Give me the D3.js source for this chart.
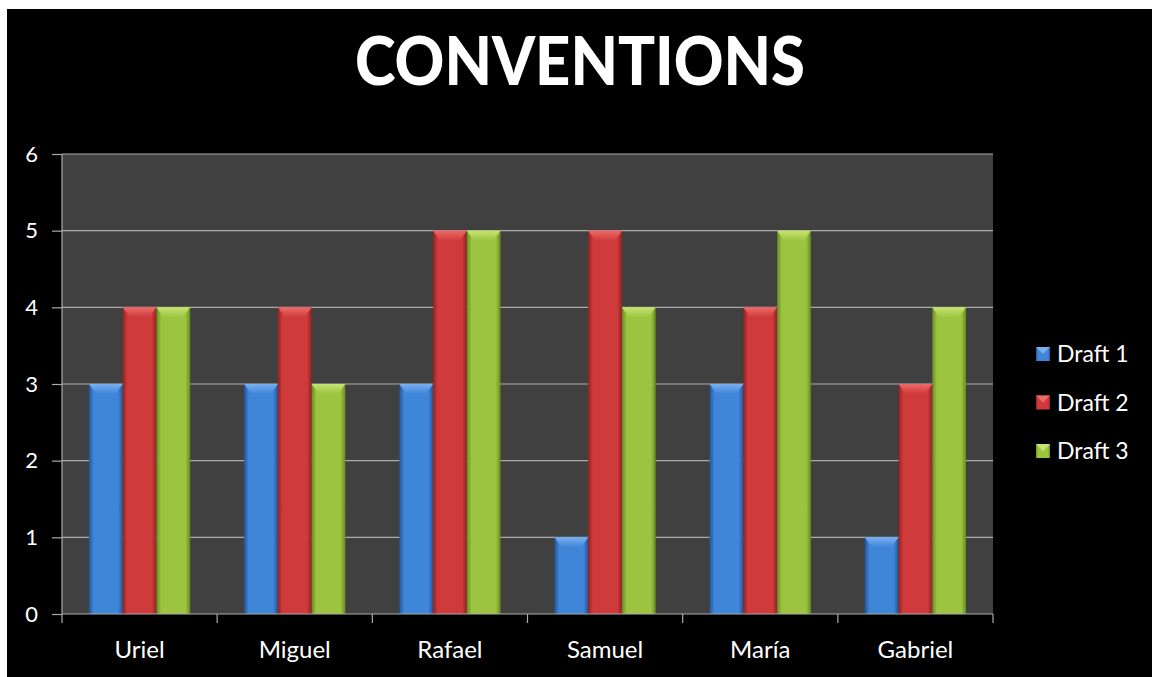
<!DOCTYPE html>
<html>
<head>
<meta charset="utf-8">
<script src="https://cdn.jsdelivr.net/npm/d3@7"></script>
<style>
html,body{margin:0;padding:0;background:#fff;}
svg{display:block;}
</style>
</head>
<body>
<svg id="chart" width="1152" height="677"></svg>
<script>
const categories = ["Uriel","Miguel","Rafael","Samuel","María","Gabriel"];
const seriesNames = ["Draft 1","Draft 2","Draft 3"];
const draft1 = [3,3,3,1,3,1];
const draft2 = [4,4,5,5,4,3];
const draft3 = [4,3,5,4,5,4];
const seriesValues = [draft1, draft2, draft3];
const yTicks = [0,1,2,3,4,5,6];
const title = "CONVENTIONS";

const palette = [
  {edge:"#24559a", mid:"#3f85d8", top:"#78b0f0"},
  {edge:"#922222", mid:"#cf3b3b", top:"#ee6a6a"},
  {edge:"#688a22", mid:"#9cc440", top:"#c6e472"}
];

const FONT = "Lato, 'Open Sans', sans-serif";
const svg = d3.select("#chart");
const W = 1152, H = 677;
svg.append("rect").attr("x",0).attr("y",0).attr("width",W).attr("height",H).attr("fill","#fff");
svg.append("rect").attr("x",7).attr("y",9).attr("width",W-7).attr("height",H-9).attr("fill","#000");

const plot = {left:62, top:154, right:993, bottom:614};

const defs = svg.append("defs");
palette.forEach((p,i)=>{
  const g = defs.append("linearGradient").attr("id","grad"+i).attr("x1","0").attr("x2","1").attr("y1","0").attr("y2","0");
  g.append("stop").attr("offset","0%").attr("stop-color",p.edge);
  g.append("stop").attr("offset","14%").attr("stop-color",p.mid);
  g.append("stop").attr("offset","86%").attr("stop-color",p.mid);
  g.append("stop").attr("offset","100%").attr("stop-color",p.edge);
  const gt = defs.append("linearGradient").attr("id","top"+i).attr("x1","0").attr("x2","0").attr("y1","0").attr("y2","1");
  gt.append("stop").attr("offset","0%").attr("stop-color",p.top);
  gt.append("stop").attr("offset","100%").attr("stop-color",p.mid);
});

svg.append("text").attr("x",580).attr("y",85).attr("text-anchor","middle")
  .attr("font-family",FONT).attr("font-weight","900")
  .attr("font-size",66).attr("fill","#fff")
  .attr("textLength",450).attr("lengthAdjust","spacingAndGlyphs")
  .text(title);

svg.append("rect").attr("x",plot.left).attr("y",plot.top)
  .attr("width",plot.right-plot.left).attr("height",plot.bottom-plot.top).attr("fill","#404040");

const x0 = d3.scaleBand().domain(categories).range([plot.left, plot.right]).paddingInner(0).paddingOuter(0);
const x1 = d3.scaleBand().domain(seriesNames).range([0, x0.bandwidth()]).paddingInner(0).paddingOuter(0.8);
const y = d3.scaleLinear().domain([0,6]).range([plot.bottom, plot.top]);

svg.append("g").selectAll("line").data(yTicks.filter(d=>d>0)).join("line")
  .attr("x1",plot.left).attr("x2",plot.right)
  .attr("y1",d=>y(d)).attr("y2",d=>y(d))
  .attr("stroke","#ababab").attr("stroke-width",1.2);

const bw = x1.bandwidth();
categories.forEach((c,ci)=>{
  seriesNames.forEach((s,si)=>{
    const v = seriesValues[si][ci];
    const bx = x0(c) + x1(s);
    const by = y(v);
    const bh = y(0) - by;
    const g = svg.append("g");
    g.append("rect").attr("x",bx).attr("y",by).attr("width",bw).attr("height",bh)
      .attr("fill","url(#grad"+si+")");
    const bev = 10, ins = 7;
    g.append("path")
      .attr("d",`M${bx},${by}L${bx+bw},${by}L${bx+bw-ins},${by+bev}L${bx+ins},${by+bev}Z`)
      .attr("fill","url(#top"+si+")");
  });
});

svg.append("line").attr("x1",plot.left).attr("x2",plot.left).attr("y1",plot.top).attr("y2",plot.bottom)
  .attr("stroke","#ababab").attr("stroke-width",1.2);
svg.append("line").attr("x1",plot.left).attr("x2",plot.right).attr("y1",plot.bottom).attr("y2",plot.bottom)
  .attr("stroke","#ababab").attr("stroke-width",1.2);

const yAxis = d3.axisLeft(y).tickValues(yTicks).tickSize(10).tickPadding(14).tickFormat(d3.format("d"));
const ya = svg.append("g").attr("transform",`translate(${plot.left},0)`).call(yAxis);
ya.select(".domain").remove();
ya.selectAll("line").attr("stroke","#ababab").attr("stroke-width",1.2);
ya.selectAll("text").attr("fill","#fff").attr("font-size",22).attr("font-family",FONT);

const xAxis = d3.axisBottom(x0).tickSize(0).tickPadding(27);
const xa = svg.append("g").attr("transform",`translate(0,${plot.bottom})`).call(xAxis);
xa.select(".domain").remove();
xa.selectAll("text").attr("fill","#fff").attr("font-size",24).attr("font-family",FONT);
const bounds = categories.map(c=>x0(c)).concat([plot.right]);
svg.append("g").selectAll("line").data(bounds).join("line")
  .attr("x1",d=>d).attr("x2",d=>d).attr("y1",plot.bottom).attr("y2",plot.bottom+9)
  .attr("stroke","#ababab").attr("stroke-width",1.2);

const leg = svg.append("g");
seriesNames.forEach((s,i)=>{
  const cy = 354 + i*48.5;
  leg.append("rect").attr("x",1036).attr("y",cy-7).attr("width",14).attr("height",14).attr("fill","url(#grad"+i+")");
  leg.append("path").attr("d",`M1036,${cy-7}L1050,${cy-7}L1043,${cy}Z`).attr("fill",palette[i].top);
  leg.append("text").attr("x",1057).attr("y",cy).attr("dy","0.35em")
    .attr("fill","#fff").attr("font-size",23).attr("font-family",FONT).text(s);
});
</script>
</body>
</html>
